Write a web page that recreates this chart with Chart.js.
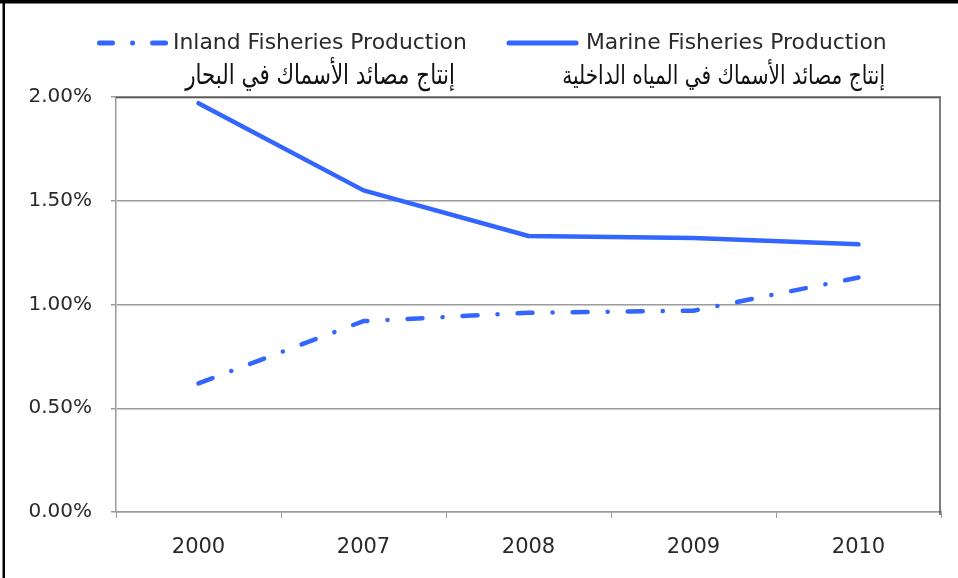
<!DOCTYPE html>
<html>
<head>
<meta charset="utf-8">
<script src="https://cdn.jsdelivr.net/npm/chart.js@4/dist/chart.umd.min.js"></script>
<style>
  html, body { margin: 0; padding: 0; background: #fff; }
  #wrap { width: 958px; height: 578px; }
</style>
</head>
<body>
<div id="wrap"><canvas id="chart" width="958" height="578"></canvas></div>
<script>
// Values (percent)
const years = ['2000', '2007', '2008', '2009', '2010'];
const inlandValues = [0.62, 0.92, 0.96, 0.97, 1.13];
const marineValues = [1.97, 1.55, 1.33, 1.32, 1.29];
const seriesNames = ['Inland Fisheries Production', 'Marine Fisheries Production'];
const seriesNamesAr = ['إنتاج مصائد الأسماك في البحار', 'إنتاج مصائد الأسماك في المياه الداخلية'];

const BLUE = '#3366ff';
const TEXT = '#2a2a2a';
const GRID = '#9c9c9c';
const FONT = '"DejaVu Sans", sans-serif';
const DASH_DOT = [15, 20, 0.1, 20];

// Legend boxes: symbol start/end, text span, arabic span
const legendLayout = [
  { sx: 99.5, ex: 168, tx: 173, tw: 294, ax: 185, aw: 270, dash: [13, 20, 0.1, 20] },
  { sx: 509, ex: 576, tx: 586, tw: 301, ax: 562, aw: 323, dash: [] },
];

function fitFont(ctx, text, width, base) {
  ctx.font = base + 'px ' + FONT;
  const w = ctx.measureText(text).width;
  return base * width / w;
}

const framePlugin = {
  id: 'frameAndLegend',
  beforeDraw(chart) {
    const { ctx, width, height } = chart;
    ctx.save();
    ctx.fillStyle = '#fff';
    ctx.fillRect(0, 0, width, height);
    ctx.restore();
  },
  afterDraw(chart) {
    const { ctx, chartArea } = chart;
    ctx.save();
    // plot area top/right edges
    ctx.strokeStyle = '#555';
    ctx.lineWidth = 1.5;
    ctx.beginPath();
    ctx.moveTo(chartArea.left, chartArea.top + 0.5);
    ctx.lineTo(chartArea.right - 1, chartArea.top + 0.5);
    ctx.lineTo(chartArea.right - 1, chartArea.bottom + 3);
    ctx.stroke();

    // outer black frame (top and left)
    ctx.fillStyle = '#000';
    ctx.fillRect(0, 0, chart.width, 3.5);
    ctx.fillRect(2.5, 0, 2.5, chart.height);

    // legend
    const y = 43;
    legendLayout.forEach((L, i) => {
      ctx.strokeStyle = BLUE;
      ctx.lineWidth = 5;
      ctx.lineCap = 'round';
      ctx.setLineDash(L.dash);
      ctx.beginPath();
      ctx.moveTo(L.sx, y);
      ctx.lineTo(L.ex, y);
      ctx.stroke();
      ctx.setLineDash([]);

      ctx.fillStyle = TEXT;
      ctx.textBaseline = 'middle';
      ctx.textAlign = 'left';
      const fs = fitFont(ctx, seriesNames[i], L.tw, 21);
      ctx.font = fs + 'px ' + FONT;
      ctx.fillText(seriesNames[i], L.tx, y);

      // arabic line, stretched a little taller like the original
      const afs = fitFont(ctx, seriesNamesAr[i], L.aw, 20);
      ctx.save();
      ctx.translate(L.ax + L.aw, 77);
      ctx.scale(1, 1.3);
      ctx.font = afs + 'px ' + FONT;
      ctx.direction = 'rtl';
      ctx.textAlign = 'right';
      ctx.fillStyle = '#111';
      ctx.fillText(seriesNamesAr[i], 0, 0);
      ctx.restore();
    });
    ctx.restore();
  },
};

new Chart(document.getElementById('chart'), {
  type: 'line',
  data: {
    labels: years,
    datasets: [
      {
        label: seriesNames[0],
        data: inlandValues,
        borderColor: BLUE,
        borderWidth: 4.5,
        borderDash: DASH_DOT,
        borderCapStyle: 'round',
        borderJoinStyle: 'round',
        pointRadius: 0,
        tension: 0,
        fill: false,
      },
      {
        label: seriesNames[1],
        data: marineValues,
        borderColor: BLUE,
        borderWidth: 4.5,
        borderCapStyle: 'round',
        borderJoinStyle: 'round',
        pointRadius: 0,
        tension: 0,
        fill: false,
      },
    ],
  },
  options: {
    responsive: false,
    animation: false,
    devicePixelRatio: 1,
    layout: { padding: { top: 97, right: 17, left: 0, bottom: 0 } },
    plugins: {
      legend: { display: false },
      tooltip: { enabled: false },
    },
    scales: {
      x: {
        offset: true,
        afterFit(scale) { scale.height = 66; },
        grid: {
          offset: true,
          drawOnChartArea: false,
          tickLength: 6,
          color: GRID,
        },
        border: { color: GRID, width: 1.5 },
        ticks: {
          color: TEXT,
          font: { family: FONT, size: 21 },
          padding: 17,
          maxRotation: 0,
        },
      },
      y: {
        min: 0,
        max: 2,
        afterFit(scale) { scale.width = 116; },
        grid: { color: GRID, lineWidth: 1.5, tickLength: 5 },
        border: { color: GRID, width: 1.5 },
        ticks: {
          stepSize: 0.5,
          color: TEXT,
          font: { family: FONT, size: 20 },
          padding: 19,
          callback: (v) => v.toFixed(2) + '%',
        },
      },
    },
  },
  plugins: [framePlugin],
});
</script>
</body>
</html>
